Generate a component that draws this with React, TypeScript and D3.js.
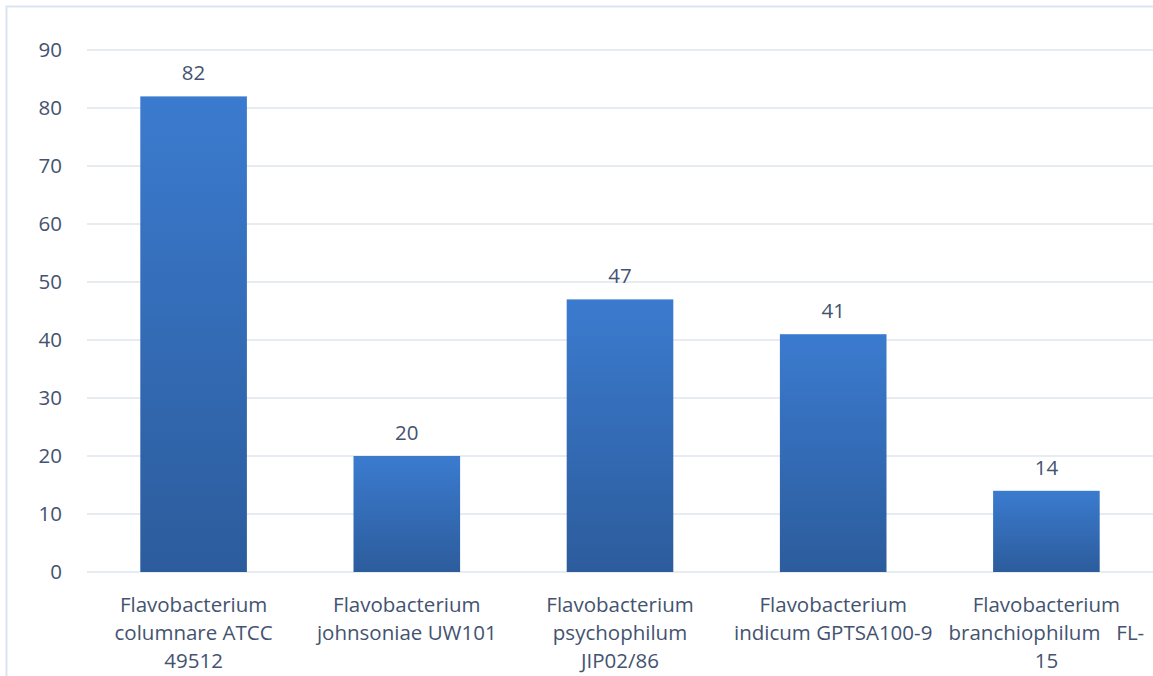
import React from "react";
import * as d3 from "d3";

const categories: string[][] = [
  ["Flavobacterium", "columnare ATCC", "49512"],
  ["Flavobacterium", "johnsoniae UW101"],
  ["Flavobacterium", "psychophilum", "JIP02/86"],
  ["Flavobacterium", "indicum GPTSA100-9"],
  ["Flavobacterium", "branchiophilum   FL-", "15"],
];
const values: number[] = [82, 20, 47, 41, 14];
const yTicks: number[] = [0, 10, 20, 30, 40, 50, 60, 70, 80, 90];

const W = 1153;
const H = 676;
const margin = { left: 87, right: 0, top: 50, bottom: 104 };
const textColor = "#435370";
const font = "'Open Sans', 'Noto Sans', sans-serif";

export default function App() {
  const x = d3
    .scaleBand<number>()
    .domain(values.map((_, i) => i))
    .range([margin.left, W - margin.right])
    .paddingInner(0.5)
    .paddingOuter(0.25);
  const y = d3
    .scaleLinear()
    .domain([0, 90])
    .range([H - margin.bottom, margin.top]);

  return (
    <svg
      width={W}
      height={H}
      style={{ position: "absolute", left: 0, top: 0, background: "#fff" }}
    >
      <defs>
        <linearGradient id="barFill" x1="0" y1="0" x2="0" y2="1">
          <stop offset="0%" stopColor="#3b7bcf" />
          <stop offset="100%" stopColor="#2c5c9c" />
        </linearGradient>
      </defs>
      {/* chart frame */}
      <path d={`M6.5,${H} V6.5 H${W}`} fill="none" stroke="#dbe5f1" strokeWidth={2} />
      {/* gridlines and tick labels */}
      {yTicks.map((t) => (
        <g key={t}>
          <line
            x1={margin.left}
            x2={W}
            y1={y(t)}
            y2={y(t)}
            stroke="#dfe5ee"
            strokeWidth={1.5}
          />
          <text
            x={62}
            y={y(t)}
            dy="0.36em"
            textAnchor="end"
            fontFamily={font}
            fontSize={20.5}
            fill={textColor}
          >
            {t}
          </text>
        </g>
      ))}
      {/* bars with value labels */}
      {values.map((v, i) => (
        <g key={i}>
          <rect
            x={x(i)}
            y={y(v)}
            width={x.bandwidth()}
            height={y(0) - y(v)}
            fill="url(#barFill)"
          />
          <text
            x={(x(i) as number) + x.bandwidth() / 2}
            y={y(v) - 16}
            textAnchor="middle"
            fontFamily={font}
            fontSize={20.5}
            fill={textColor}
          >
            {v}
          </text>
        </g>
      ))}
      {/* category labels */}
      {categories.map((lines, i) => (
        <text
          key={i}
          textAnchor="middle"
          fontFamily={font}
          fontSize={20.5}
          fill={textColor}
          style={{ whiteSpace: "pre" }}
        >
          {lines.map((ln, j) => (
            <tspan
              key={j}
              x={(x(i) as number) + x.bandwidth() / 2}
              y={y(0) + 40 + j * 28}
            >
              {ln}
            </tspan>
          ))}
        </text>
      ))}
    </svg>
  );
}
